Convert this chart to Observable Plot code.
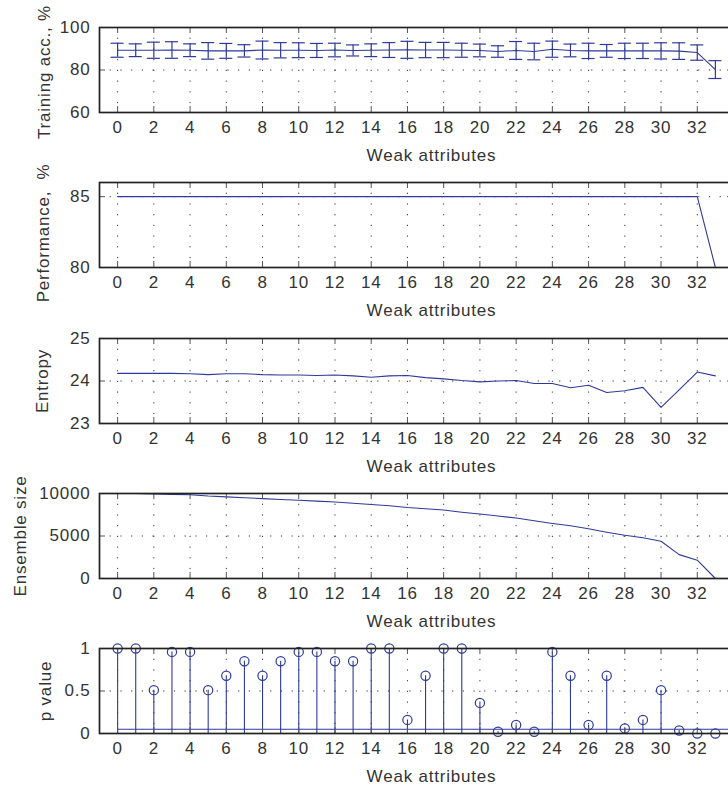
<!DOCTYPE html>
<html><head><meta charset="utf-8">
<script src="https://cdn.jsdelivr.net/npm/d3@7"></script>
<script src="https://cdn.jsdelivr.net/npm/@observablehq/plot@0.6"></script>
<style>
html,body{margin:0;padding:0;background:#fff;overflow:hidden;width:728px;height:789px}
#chart{position:relative;width:728px;height:789px;overflow:hidden}
#chart svg{position:absolute;left:0;overflow:visible;max-width:none !important}
</style></head><body><div id="chart"></div>
<script>
// ---- data ----
const attrs = [0,1,2,3,4,5,6,7,8,9,10,11,12,13,14,15,16,17,18,19,20,21,22,23,24,25,26,27,28,29,30,31,32,33];
const accMean = [89.3,89.3,89.3,89.4,89.3,89.0,89.0,89.0,89.4,89.3,89.3,89.2,89.4,89.2,89.3,89.4,89.5,89.4,89.4,89.3,89.2,88.7,89.2,88.7,89.8,89.2,89.0,89.0,89.0,89.0,89.0,88.9,88.2,80.2];
const accErr = [3.3,3.0,3.8,3.9,3.0,3.9,3.5,2.9,4.2,3.6,3.5,3.3,3.2,2.6,3.0,3.5,4.0,3.6,3.6,3.3,3.0,2.7,4.2,3.9,3.8,3.0,3.6,3.0,3.6,3.6,3.8,3.9,3.6,4.2];
const performance = [85,85,85,85,85,85,85,85,85,85,85,85,85,85,85,85,85,85,85,85,85,85,85,85,85,85,85,85,85,85,85,85,85,80];
const entropy = [24.18,24.18,24.18,24.18,24.17,24.15,24.17,24.17,24.15,24.14,24.14,24.13,24.14,24.12,24.09,24.12,24.13,24.08,24.05,24.01,23.98,24.0,24.01,23.94,23.94,23.84,23.9,23.73,23.77,23.85,23.38,23.79,24.21,24.12];
const ensembleSize = [10000,10000,9950,9900,9850,9700,9600,9500,9400,9300,9200,9100,9000,8850,8700,8550,8350,8200,8050,7800,7580,7350,7110,6800,6480,6200,5860,5450,5080,4800,4380,2810,2150,0];
const pValue = [1.0,1.0,0.51,0.96,0.96,0.51,0.68,0.85,0.68,0.85,0.96,0.96,0.85,0.85,1.0,1.0,0.16,0.68,1.0,1.0,0.36,0.02,0.10,0.02,0.96,0.68,0.10,0.68,0.06,0.16,0.51,0.035,0.0,0.0];
const thresholdX = [0, 34];
const thresholdY = [0.05, 0.05];
const xTicks = [0,2,4,6,8,10,12,14,16,18,20,22,24,26,28,30,32];
const xDomain = [-1, 34];
const accTicks = [60,80,100], accGrid = [80];
const perfTicks = [80,85], perfGrid = [85];
const entTicks = [23,24,25], entGrid = [24];
const ensTicks = [0,5000,10000], ensGrid = [5000];
const pTicks = [0,0.5,1], pGrid = [0.5];
const xLabel = "Weak attributes";
const yLabels = ["Training acc., %", "Performance,  %", "Entropy", "Ensemble size", "p value"];

// ---- layout / style ----
const BLUE = "#2d3a9a";
const W = 760, ML = 99, FR = 733, MT = 27, FH = 85, H = 155;
const FW = FR - ML;
const STEP = 155.3;

const accRows = attrs.map((x, i) => ({x, mean: accMean[i], lo: accMean[i] - accErr[i], hi: accMean[i] + accErr[i]}));
const perfRows = attrs.map((x, i) => ({x, v: performance[i]}));
const entRows = attrs.map((x, i) => ({x, v: entropy[i]}));
const ensRows = attrs.map((x, i) => ({x, v: ensembleSize[i]}));
const pRows = attrs.map((x, i) => ({x, v: pValue[i]}));
const thrRows = thresholdX.map((x, i) => ({x, v: thresholdY[i]}));

function panel({yDomain, yTicks, yGrid, yLabel, labelX, labelDy, marks}) {
  return Plot.plot({
    width: W, height: H,
    marginLeft: ML, marginRight: W - FR, marginTop: MT, marginBottom: H - MT - FH,
    style: {fontFamily: "'Liberation Sans', Arial, sans-serif", fontSize: "17px", color: "#333", background: "transparent", letterSpacing: "0.8px", overflow: "visible", maxWidth: "none"},
    x: {domain: xDomain, ticks: xTicks, tickSize: 0, tickPadding: 8, label: null, tickFormat: d => String(d)},
    y: {domain: yDomain, ticks: yTicks, tickSize: 0, tickPadding: 9, label: null, tickFormat: d => String(d)},
    marks: [
      Plot.ruleX(xTicks, {x: d => d, stroke: "#333", strokeDasharray: "1.2,9.5", strokeWidth: 1}),
      Plot.ruleY(yGrid, {y: d => d, stroke: "#333", strokeDasharray: "1.2,9.5", strokeWidth: 1}),
      ...marks,
      Plot.tickX(xTicks, {x: d => d, insetTop: FH - 6, stroke: "#555", strokeWidth: 1}),
      Plot.tickX(xTicks, {x: d => d, insetBottom: FH - 6, stroke: "#555", strokeWidth: 1}),
      Plot.tickY(yTicks, {y: d => d, insetRight: FW - 6, stroke: "#555", strokeWidth: 1}),
      Plot.tickY(yTicks, {y: d => d, insetLeft: FW - 6, stroke: "#555", strokeWidth: 1}),
      Plot.frame({stroke: "#222", strokeWidth: 1.7}),
      Plot.text([yLabel], {text: d => d, frameAnchor: "left", textAnchor: "middle", rotate: -90, dx: labelX - ML, dy: labelDy, lineAnchor: "middle", fill: "#333"}),
      Plot.text([xLabel], {text: d => d, frameAnchor: "bottom", textAnchor: "middle", dx: 15, dy: 43, lineAnchor: "middle", fill: "#333"})
    ]
  });
}

const panels = [
  panel({yDomain: [60, 100], yTicks: accTicks, yGrid: accGrid, yLabel: yLabels[0], labelX: 44.5, labelDy: 2, marks: [
    Plot.line(accRows, {x: "x", y: "mean", stroke: BLUE, strokeWidth: 1.1}),
    Plot.ruleX(accRows, {x: "x", y1: "lo", y2: "hi", stroke: BLUE, strokeWidth: 1.2}),
    Plot.ruleY(accRows, {y: "hi", x1: d => d.x - 0.36, x2: d => d.x + 0.36, stroke: BLUE, strokeWidth: 1.2}),
    Plot.ruleY(accRows, {y: "lo", x1: d => d.x - 0.36, x2: d => d.x + 0.36, stroke: BLUE, strokeWidth: 1.2})
  ]}),
  panel({yDomain: [80, 86], yTicks: perfTicks, yGrid: perfGrid, yLabel: yLabels[1], labelX: 43, labelDy: 8, marks: [
    Plot.line(perfRows, {x: "x", y: "v", stroke: BLUE, strokeWidth: 1.1})
  ]}),
  panel({yDomain: [23, 25], yTicks: entTicks, yGrid: entGrid, yLabel: yLabels[2], labelX: 42, labelDy: 0, marks: [
    Plot.line(entRows, {x: "x", y: "v", stroke: BLUE, strokeWidth: 1.1})
  ]}),
  panel({yDomain: [0, 10000], yTicks: ensTicks, yGrid: ensGrid, yLabel: yLabels[3], labelX: 19.6, labelDy: 0, marks: [
    Plot.line(ensRows, {x: "x", y: "v", stroke: BLUE, strokeWidth: 1.1})
  ]}),
  panel({yDomain: [0, 1], yTicks: pTicks, yGrid: pGrid, yLabel: yLabels[4], labelX: 45, labelDy: 0, marks: [
    Plot.line(thrRows, {x: "x", y: "v", stroke: BLUE, strokeWidth: 1.1}),
    Plot.ruleX(pRows, {x: "x", y1: 0, y2: "v", stroke: BLUE, strokeWidth: 1.1}),
    Plot.dot(pRows, {x: "x", y: "v", r: 4.6, stroke: BLUE, fill: "none", strokeWidth: 1.2})
  ]})
];

const chart = document.getElementById("chart");
panels.forEach((svg, i) => {
  svg.style.top = (i * STEP) + "px";
  svg.style.maxWidth = "none";
  svg.style.width = W + "px";
  svg.style.height = H + "px";
  chart.appendChild(svg);
});
</script></body></html>
